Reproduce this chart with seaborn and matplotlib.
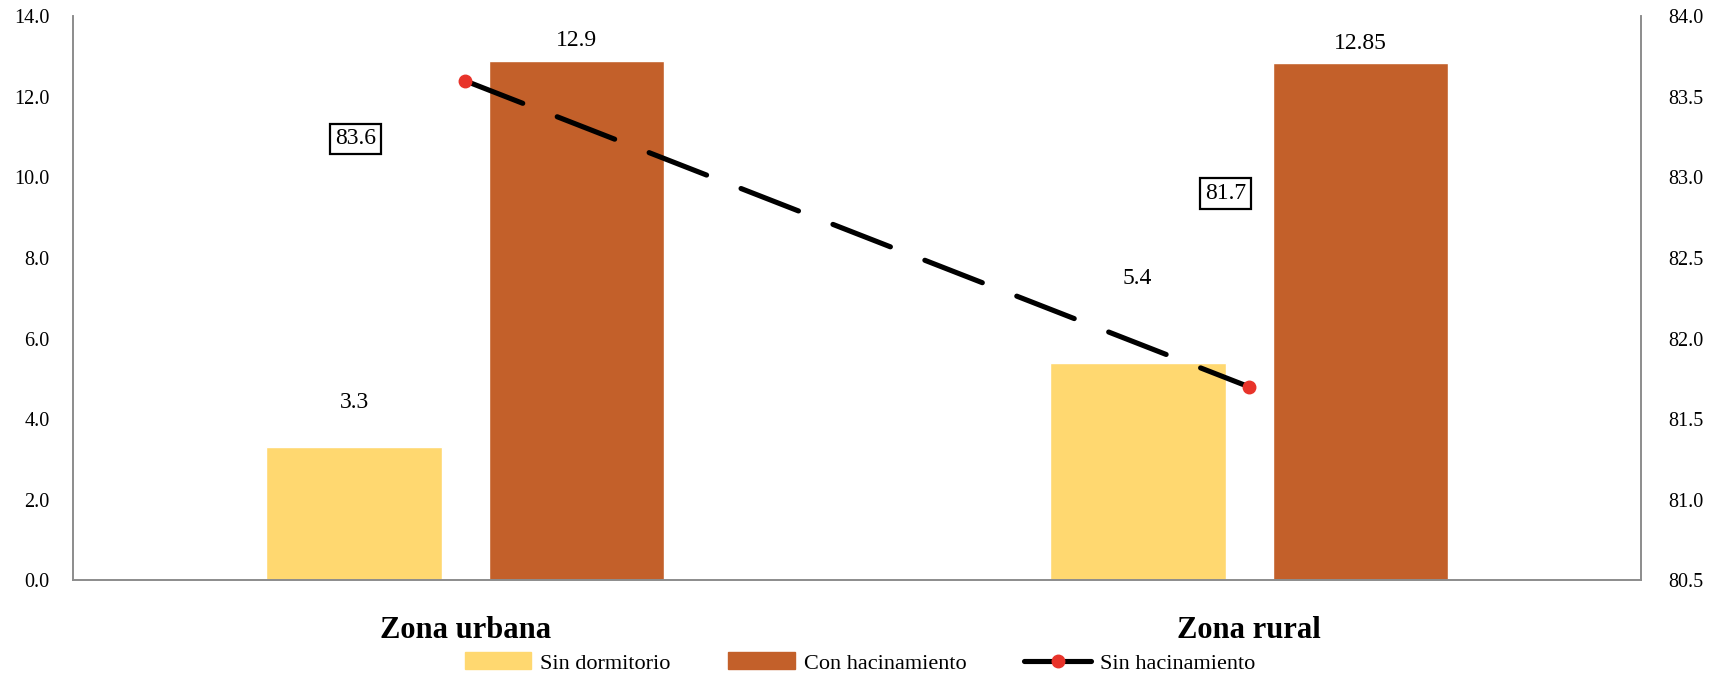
import pandas as pd
import matplotlib.pyplot as plt
import seaborn as sns
from matplotlib.patches import Patch
from matplotlib.lines import Line2D

sns.set_style("white")
plt.rcParams['font.family'] = ['Liberation Serif', 'DejaVu Serif']
plt.rcParams['text.color'] = 'black'
plt.rcParams['xtick.color'] = 'black'
plt.rcParams['ytick.color'] = 'black'

# data
zonas = ["Zona urbana", "Zona rural"]
sin_dormitorio = [3.3, 5.4]
con_hacinamiento = [12.9, 12.85]
sin_hacinamiento = [83.6, 81.7]

# label texts
lab_sin_dorm = ["3.3", "5.4"]
lab_con_hac = ["12.9", "12.85"]
lab_sin_hac = ["83.6", "81.7"]

yellow = "#FFD870"
brown = "#C3602A"
red = "#E8332A"

df = pd.DataFrame({
    "zona": zonas * 2,
    "serie": ["Sin dormitorio"] * 2 + ["Con hacinamiento"] * 2,
    "valor": sin_dormitorio + con_hacinamiento,
})

fig = plt.figure(figsize=(17.2, 6.78), dpi=100)
ax = fig.add_axes([0.0427, 0.1445, 0.9113, 0.8312])

sns.barplot(data=df, x="zona", y="valor", hue="serie", order=zonas,
            palette=[yellow, brown], width=0.568, gap=0.211,
            legend=False, ax=ax, saturation=1)

ax.set_xlim(-0.5, 1.5)
ax.set_ylim(0, 14)
ax.set_yticks(range(0, 15, 2))
ax.set_yticklabels([f"{v:.1f}" for v in range(0, 15, 2)], fontsize=14.5)
ax.set_xlabel("")
ax.set_ylabel("")
ax.tick_params(axis="x", length=0, pad=26)
ax.tick_params(axis="y", length=0, pad=17)
for t in ax.get_xticklabels():
    t.set_fontsize(22)
    t.set_fontweight("bold")

for s in ["left", "bottom", "right"]:
    ax.spines[s].set_color("#8c8c8c")
    ax.spines[s].set_linewidth(1.2)
ax.spines["top"].set_visible(False)

# bar labels (offset above bar top, data units)
offsets_sd = [1.12, 2.08]
offsets_ch = [0.5, 0.47]
for i in range(len(zonas)):
    ax.text(i - 0.142, sin_dormitorio[i] + offsets_sd[i], lab_sin_dorm[i],
            ha="center", va="center", fontsize=17)
    ax.text(i + 0.142, con_hacinamiento[i] + offsets_ch[i], lab_con_hac[i],
            ha="center", va="center", fontsize=17)

# secondary axis with the line
ax2 = ax.twinx()
ax2.plot(range(len(zonas)), sin_hacinamiento, color="black", lw=3.7,
         linestyle=(0, (12, 7.2)), dash_capstyle="round", zorder=3)
ax2.plot(range(len(zonas)), sin_hacinamiento, linestyle="none", marker="o",
         markersize=9, color=red, zorder=4)
ax2.set_ylim(80.5, 84)
r_ticks = [80.5 + 0.5 * k for k in range(8)]
ax2.set_yticks(r_ticks)
ax2.set_yticklabels([f"{v:.1f}" for v in r_ticks], fontsize=14.5)
ax2.tick_params(axis="y", length=0, pad=20)
for s in ["left", "bottom", "right"]:
    ax2.spines[s].set_color("#8c8c8c")
    ax2.spines[s].set_linewidth(1.2)
ax2.spines["top"].set_visible(False)
ax2.grid(False)
ax.grid(False)

# boxed line labels
box_dx = [-0.14, -0.03]
box_dy = [-0.36, 1.2]
for i in range(len(zonas)):
    ax2.text(i + box_dx[i], sin_hacinamiento[i] + box_dy[i], lab_sin_hac[i],
             ha="center", va="center", fontsize=17,
             bbox=dict(boxstyle="square,pad=0.2", fc="white", ec="black", lw=1.6))

handles = [
    Patch(color=yellow, label="Sin dormitorio"),
    Patch(color=brown, label="Con hacinamiento"),
    Line2D([0], [0], color="black", lw=3.7, marker="o", markersize=9,
           markerfacecolor=red, markeredgecolor=red, label="Sin hacinamiento"),
]
fig.legend(handles=handles, loc="center", bbox_to_anchor=(0.5, 0.022), ncol=3,
           frameon=False, fontsize=16, handlelength=3.0, handleheight=0.8,
           columnspacing=2.6, handletextpad=0.4)

plt.savefig("out.png", dpi=100)
